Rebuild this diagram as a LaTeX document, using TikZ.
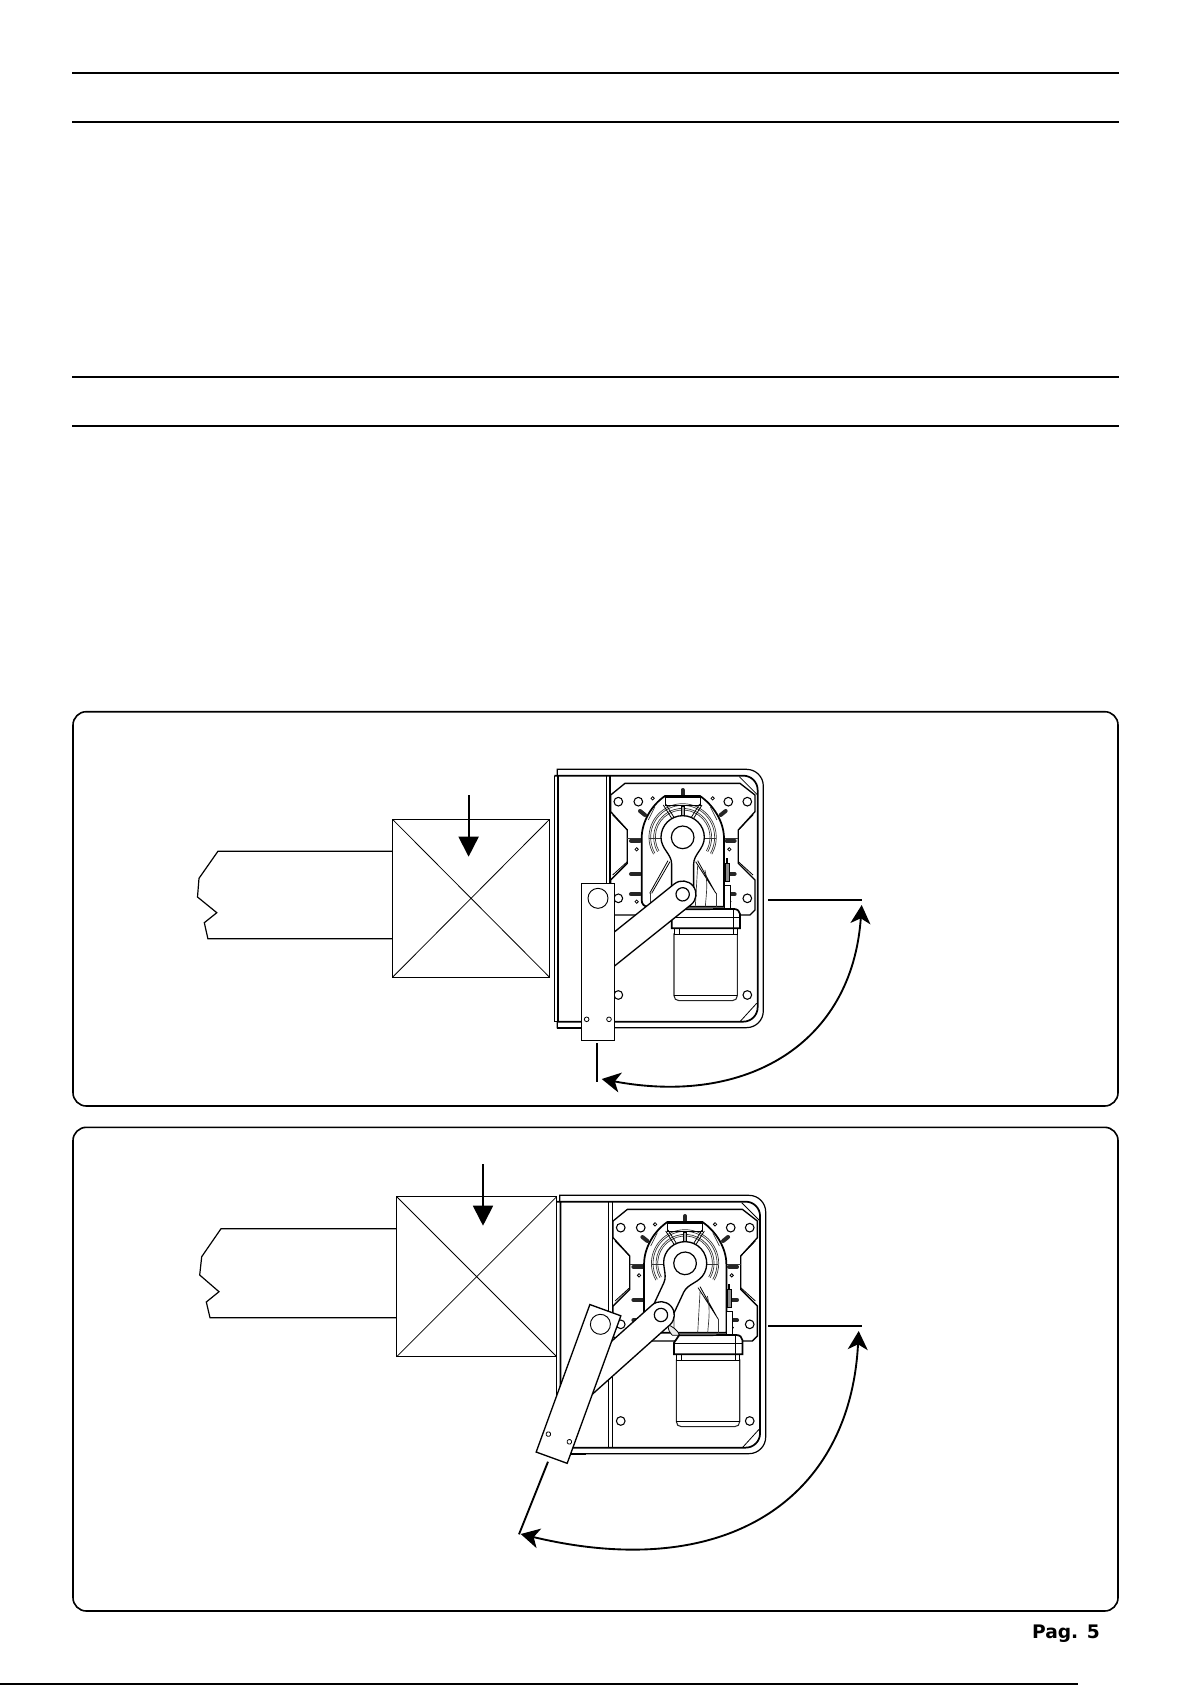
\documentclass[tikz,border=0pt]{standalone}
\usepackage{fontspec}
\usetikzlibrary{arrows.meta}
\newfontfamily\pagefont{DejaVu Sans}

\tikzset{every picture/.style={line width=0.75pt}}
\tikzset{
	pagerule/.style={line width=1.5pt},
	panelbox/.style={line width=1.2pt,rounded corners=10pt},
	postline/.style={line width=0.9pt},
	thinline/.style={line width=0.6pt},
	fineline/.style={line width=0.5pt,color=black!80},
	heavyline/.style={line width=1.3pt},
	boltmark/.style={line width=3pt,line cap=round,color=black!85},
	holemark/.style={line width=0.8pt,fill=white},
	swingline/.style={line width=1.4pt},
	swingarrow/.style={line width=1.4pt,{Stealth[length=14pt,width=15pt,inset=4pt]}-{Stealth[length=14pt,width=15pt,inset=4pt]}},
	downarrow/.style={line width=1.4pt,-{Triangle[length=15pt,width=15pt]}}
}

% fixed box with plate, gearbox and motor
\newcommand{\drawhousing}{
	%Shape: Housing
	\draw [line width=0.9pt] (82,77) -- (82,58) -- (650,58) arc[start angle=270,end angle=360,radius=50] -- (700,783) arc[start angle=0,end angle=90,radius=50] -- (82,833) -- (82,815) ;
	\draw [thinline] (73,77) -- (73,815) -- (84,815) ;
	\draw [heavyline] (73,77) -- (640,77) arc[start angle=270,end angle=360,radius=43] -- (683,772) arc[start angle=0,end angle=90,radius=43] -- (84,815) -- (84,77) ;
	\draw [heavyline] (82,833) -- (160,833) ;
	\draw [thinline] (228,77) -- (228,815) ;
	\draw [heavyline] (240,77) -- (240,815) ;
	\draw [thinline] (628,80) -- (683,135) (630,815) -- (680,760) ;
	%Shape: Plate
	\draw [line width=1pt] (285,100) -- (630,100) -- (675,135) -- (675,185) -- (625,240) -- (625,340) -- (675,390) -- (675,480) -- (660,495) -- (253,495) -- (242,480) -- (242,390) -- (292,340) -- (292,240) -- (242,185) -- (242,135) -- cycle ;
	\draw [thinline] (248,195) -- (292,240) (248,375) -- (292,335) (669,195) -- (625,240) (669,375) -- (625,335) ;
	\draw [fineline] (292,265) -- (335,265) (582,265) -- (625,265) ;
	%Shape: Bolts
	\draw [boltmark] (458,120) -- (458,136) ;
	\draw [boltmark] (330,183) -- (345,195) ;
	\draw [boltmark] (587,183) -- (572,195) ;
	\foreach \boltY in {272,372,433} {
		\draw [boltmark] (303,\boltY) -- (330,\boltY) ;
		\draw [boltmark] (590,\boltY) -- (614,\boltY) ;
	}
	%Shape: Holes
	\foreach \holeX/\holeY in {265/155,325/155,595/155,652/155,265/445,652/445,265/735,652/735} {
		\draw [holemark] (\holeX,\holeY) circle[radius=13] ;
	}
	\foreach \holeX/\holeY in {368/145,548/145,320/298,598/298,320/455,598/455} {
		\draw [thinline,fill=white] (\holeX,\holeY) circle[radius=5] ;
	}
	%Shape: Gearbox
	\draw [heavyline,fill=white] (335,450) -- (335,265) .. controls (335,215) and (365,165) .. (405,138) -- (510,138) .. controls (550,165) and (582,215) .. (582,265) -- (582,470) -- (355,470) .. controls (342,470) and (335,462) .. (335,450) -- cycle ;
	\foreach \ringR in {82,87,96,101} {
		\draw [fineline] (458,262) ++(150:\ringR) arc[start angle=150,end angle=390,radius=\ringR] ;
	}
	\draw [thinline] (405,142) -- (510,142) -- (510,165) -- (405,165) -- cycle ;
	\draw [thinline,fill=black!35] (454,168) rectangle (463,195) ;
	\draw [thinline] (400,165) -- (425,205) (407,162) -- (432,202) (516,165) -- (491,205) (509,162) -- (484,202) ;
	\draw [fineline] (375,170) -- (355,210) (541,170) -- (561,210) ;
	\draw [fineline] (358,265) -- (395,265) (522,265) -- (558,265) ;
	\draw [thinline] (420,335) -- (365,430) (414,332) -- (359,430) (497,335) -- (558,430) (503,332) -- (552,420) ;
	\draw [fineline] (360,430) -- (360,470) (558,430) -- (558,470) ;
	\draw [fineline] (425,360) -- (425,470) (503,347) -- (496,470) (525,360) .. controls (535,400) and (528,440) .. (526,470) ;
	\draw [thinline,fill=black!8] (408,447) .. controls (418,450) and (436,462) .. (442,478) -- (420,478) .. controls (412,470) and (405,458) .. (408,447) -- cycle ;
	%Shape: Side strip
	\draw [thinline,fill=black!45] (585,340) rectangle (598,395) ;
	\draw [line width=1.6pt] (590,325) -- (590,340) ;
	\draw [thinline,fill=white] (582,405) rectangle (600,480) ;
	%Shape: Motor
	\draw [line width=0.8pt,fill=white,draw=black!85] (432,552) -- (432,737) .. controls (432,746) and (438,752) .. (447,752) -- (607,752) .. controls (616,752) and (622,746) .. (622,737) -- (622,552) -- cycle ;
	\draw [thinline] (432,737) -- (622,737) ;
	\draw [thinline,fill=white] (432,535) rectangle (622,553) ;
	\draw [thinline] (447,535) -- (447,553) (610,535) -- (610,553) ;
	\draw [heavyline,fill=white] (425,535) -- (425,500) -- (440,478) -- (612,477) .. controls (622,477) and (630,484) .. (630,492) -- (630,535) -- cycle ;
	\draw [thinline] (425,502) -- (630,502) (610,477) -- (610,535) ;
}

% moving arm, link and lever: #1 arm angle, #2 link angle, #3 lever angle
\newcommand{\drawswing}[3]{
	\begin{scope}[shift={(458,262)},rotate=#1]
		%Shape: Arm
		\draw [line width=1pt,fill=white] (-33,190) -- (-33,80) .. controls (-33,50) and (-65,35) .. (-65,0) arc[start angle=180,end angle=360,radius=65] .. controls (65,35) and (33,50) .. (33,80) -- (33,190) -- cycle ;
		\draw [line width=0.9pt] (0,0) circle[radius=34] ;
		%Shape: Link
		\begin{scope}[shift={(0,171)},rotate=#2-#1]
			\draw [line width=1pt,fill=white] (320,-40) -- (0,-40) arc[start angle=270,end angle=90,radius=40] -- (320,40) ;
			\draw [line width=0.9pt] (0,0) circle[radius=20] ;
		\end{scope}
	\end{scope}
	\begin{scope}[shift={(204,445)},rotate=#3]
		%Shape: Lever
		\draw [line width=1pt,fill=white] (-50,-45) rectangle (49,426) ;
		\draw [line width=0.7pt] (0,0) circle[radius=30] ;
		\draw [thinline] (-34,363) circle[radius=7] ;
		\draw [thinline] (33,363) circle[radius=7] ;
	\end{scope}
}

\begin{document}
\begin{tikzpicture}[x=0.75pt,y=0.75pt,yscale=-1,xscale=1]
	\path [use as bounding box,fill=white] (0,0) rectangle (1192,1685) ;

	%Straight Lines: page rules
	\draw [pagerule] (72,73) -- (1119,73) ;
	\draw [pagerule] (72,121.7) -- (1119,121.7) ;
	\draw [pagerule] (72,377) -- (1119,377) ;
	\draw [pagerule] (72,426) -- (1119,426) ;
	\draw [pagerule] (0,1683.5) -- (1078,1683.5) ;

	%Shape: Rectangle upper panel
	\draw [panelbox] (73,711.7) rectangle (1118,1106) ;
	%Shape: Rectangle lower panel
	\draw [panelbox] (73,1127.3) rectangle (1118,1611) ;

	%Shape: Wall upper
	\draw [postline] (392.5,851.3) -- (217.9,851.3) -- (199,878.3) -- (197.5,897) -- (216.8,912.7) -- (204.3,922.7) -- (207.9,938.7) -- (392.5,938.7) ;
	%Shape: Post upper
	\draw [postline] (392.5,819.3) rectangle (549.6,977.3) ;
	\draw [thinline] (392.5,819.3) -- (549.6,977.3) (392.5,977.3) -- (549.6,819.3) ;
	%Straight Lines: load arrow upper
	\draw [downarrow] (468.6,795) -- (468.6,856.7) ;

	\begin{scope}[shift={(530,750)},scale=0.3333]
		\drawhousing
		\drawswing{0}{141.3}{0}
	\end{scope}

	%Straight Lines: swing limits upper
	\draw [swingline] (768.3,900) -- (861.7,900) ;
	\draw [swingline] (596.7,1043) -- (596.7,1081.7) ;
	%Curve Lines: swing upper
	\draw [swingarrow] (861.7,905) .. controls (852,1045) and (745,1106) .. (601.7,1079) ;

	%Shape: Wall lower
	\draw [postline] (396.7,1228.7) -- (221,1228.7) -- (201.7,1256.7) -- (199.7,1275) -- (219,1291.7) -- (206.3,1302) -- (210,1317.7) -- (396.7,1317.7) ;
	%Shape: Post lower
	\draw [postline] (396.7,1196.7) rectangle (556.7,1356.7) ;
	\draw [thinline] (396.7,1196.7) -- (556.7,1356.7) (396.7,1356.7) -- (556.7,1196.7) ;
	%Straight Lines: load arrow lower
	\draw [downarrow] (483,1164) -- (483,1225.7) ;

	\begin{scope}[shift={(532.4,1176)},scale=0.3333]
		\drawhousing
		\drawswing{25}{138.2}{20}
	\end{scope}

	%Straight Lines: swing limits lower
	\draw [swingline] (768.3,1326) -- (861.7,1326) ;
	\draw [swingline] (548,1461.7) -- (519,1534.3) ;
	%Curve Lines: swing lower
	\draw [swingarrow] (858.7,1331) .. controls (850,1500) and (725,1583) .. (520.7,1534) ;

	% Text Node
	\draw (1066,1638.3) node (pagelabel) [anchor=base,font=\pagefont\bfseries\fontsize{14}{14}\selectfont] {Pag. 5};

\end{tikzpicture}
\end{document}
